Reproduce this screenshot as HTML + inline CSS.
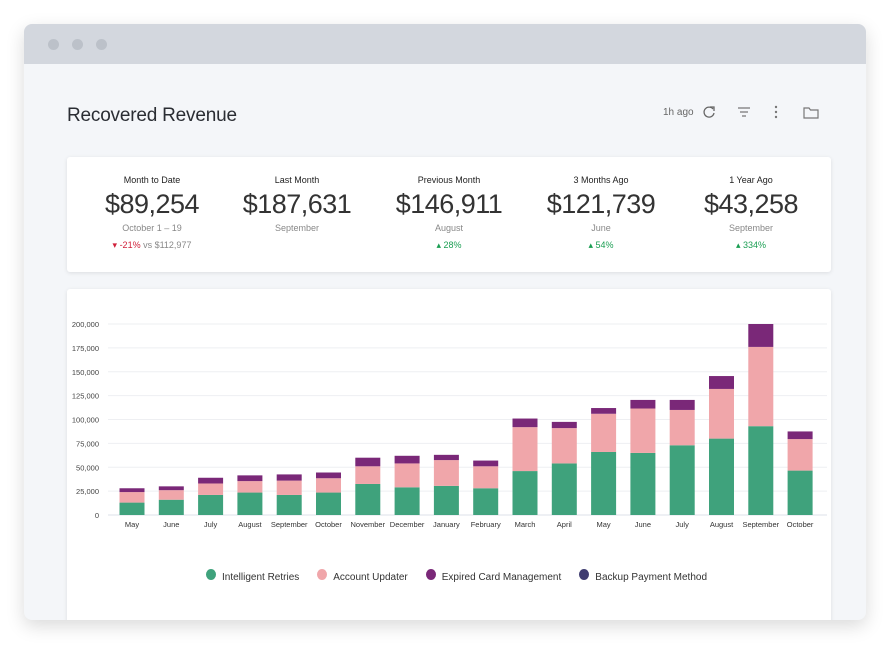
<!DOCTYPE html>
<html><head><meta charset="utf-8"><style>
body{margin:0;width:890px;height:652px;background:#fff;font-family:"Liberation Sans",sans-serif;position:relative;overflow:hidden}
.win{position:absolute;left:24px;top:24px;width:842px;height:596px;border-radius:8px;background:#f4f6f9;box-shadow:0 6px 18px rgba(0,0,0,.15);overflow:hidden}
.bar{height:40px;background:#d3d7de}
.dot{position:absolute;top:15px;width:11px;height:11px;border-radius:50%;background:#bcc1c9}
.title{position:absolute;left:43px;top:81px;font-size:19px;color:#2a2d33;letter-spacing:-.2px}
.card{position:absolute;left:43px;width:764px;background:#fff;box-shadow:0 1px 4px rgba(0,0,0,.1);border-radius:3px}
.kpi{position:absolute;top:18px;width:150px;text-align:center;color:#222}
.kpi .l{font-size:9px}
.kpi .v{font-size:27px;margin-top:4px;font-weight:300;letter-spacing:-.5px;color:#333}
.kpi .s{font-size:9px;color:#888;margin-top:3px}
.kpi .c{font-size:9px;margin-top:7px;color:#1a9e52}
.icons{position:absolute;top:80px;font-size:10px;color:#666}
.leg{position:absolute;top:280px;font-size:10px;color:#333;display:flex;align-items:center}
.leg i{display:inline-block;width:10px;height:11px;border-radius:50%;margin-right:6px}
</style></head><body>
<div class="win">
<div class="bar"></div>
<div class="dot" style="left:24px"></div>
<div class="dot" style="left:48px"></div>
<div class="dot" style="left:72px"></div>
<div class="title">Recovered Revenue</div>
<div class="icons" style="left:639px;top:83px">1h ago</div>
<svg style="position:absolute;left:678px;top:81px" width="14" height="14"><path d="M11 4A5 5 0 1 0 12 8" stroke="#666" stroke-width="1.3" fill="none"/><path d="M8 2h4v4" stroke="#666" stroke-width="1.3" fill="none"/></svg>
<svg style="position:absolute;left:713px;top:82px" width="14" height="12"><path d="M1 2h12M3 6h8M5 10h4" stroke="#777" stroke-width="1.2"/></svg>
<svg style="position:absolute;left:748px;top:81px" width="8" height="14"><circle cx="4" cy="2" r="1.2" fill="#777"/><circle cx="4" cy="7" r="1.2" fill="#777"/><circle cx="4" cy="12" r="1.2" fill="#777"/></svg>
<svg style="position:absolute;left:779px;top:82px" width="16" height="13"><path d="M1 2h5l1.5 2H15v8H1z" stroke="#777" stroke-width="1.2" fill="none"/></svg>

<div class="card" style="top:133px;height:115px">
<div class="kpi" style="left:10px"><div class="l">Month to Date</div><div class="v">$89,254</div><div class="s">October 1 – 19</div><div class="c" style="color:#888"><span style="color:#d0203a">▾ -21%</span> vs $112,977</div></div>
<div class="kpi" style="left:155px"><div class="l">Last Month</div><div class="v">$187,631</div><div class="s">September</div></div>
<div class="kpi" style="left:307px"><div class="l">Previous Month</div><div class="v">$146,911</div><div class="s">August</div><div class="c">▴ 28%</div></div>
<div class="kpi" style="left:459px"><div class="l">3 Months Ago</div><div class="v">$121,739</div><div class="s">June</div><div class="c">▴ 54%</div></div>
<div class="kpi" style="left:609px"><div class="l">1 Year Ago</div><div class="v">$43,258</div><div class="s">September</div><div class="c">▴ 334%</div></div>
</div>

<div class="card" style="top:265px;height:340px">
<svg id="chart" style="position:absolute;left:0;top:0" width="764" height="260"></svg>
<div class="leg" style="left:139px">
<span style="margin-right:18px"><i style="background:#3fa27c"></i>Intelligent Retries</span>
<span style="margin-right:18px"><i style="background:#f0a6aa"></i>Account Updater</span>
<span style="margin-right:18px"><i style="background:#7a2878"></i>Expired Card Management</span>
<span><i style="background:#3f3c70"></i>Backup Payment Method</span>
</div>
</div>
</div>
<script>
const categories=["May","June","July","August","September","October","November","December","January","February","March","April","May","June","July","August","September","October"];
const retries=[13,16,21,23.5,21,23.5,32.5,29,30.5,28,46,54,66,65,73,80,93,46.5];
const updater=[11,10,12,12,15,15,18.5,25,27,23,46,37,40,46.5,37,52,83,33];
const expired=[4,4,6,6,6.5,6,9,8,5.5,6,9,6.5,6,9,10.5,13.5,24,8];
const backup=[0,0,0,0,0,0,0,0,0,0,0,0,0,0,0,0,0,0];
const ticks=[0,25000,50000,75000,100000,125000,150000,175000,200000];
const NS="http://www.w3.org/2000/svg",svg=document.getElementById('chart');
const y=v=>226-(v/200000)*191;
const x=i=>65+i*39.3;
function mk(t,a){const e=document.createElementNS(NS,t);for(const k in a)e.setAttribute(k,a[k]);svg.appendChild(e);return e;}
ticks.forEach(t=>{
 const l=mk('line',{x1:41,x2:760,y1:y(t),y2:y(t),stroke:t?'#eeeff2':'#dde0ea','stroke-width':1});
 
 
 const tx=mk('text',{x:32,y:y(t)+3,'text-anchor':'end','font-size':7.5,fill:'#444','font-family':'Liberation Sans'});
 tx.textContent=t.toLocaleString('en-US');
 
 
});
const series=[[retries,'#3fa27c'],[updater,'#f0a6aa'],[expired,'#7a2878'],[backup,'#3f3c70']];
categories.forEach((c,i)=>{
 let acc=0;
 series.forEach(([arr,col])=>{
  const v=arr[i]*1000;if(!v)return;
  const r=mk('rect',{x:x(i)-12.5,y:y(acc+v),width:25,height:y(acc)-y(acc+v),fill:col});
  
  
  acc+=v;
 });
 const t=mk('text',{x:x(i),y:238,'text-anchor':'middle','font-size':7.5,fill:'#333','font-family':'Liberation Sans'});
 t.textContent=c;
 
 
});
</script>
</body></html>
